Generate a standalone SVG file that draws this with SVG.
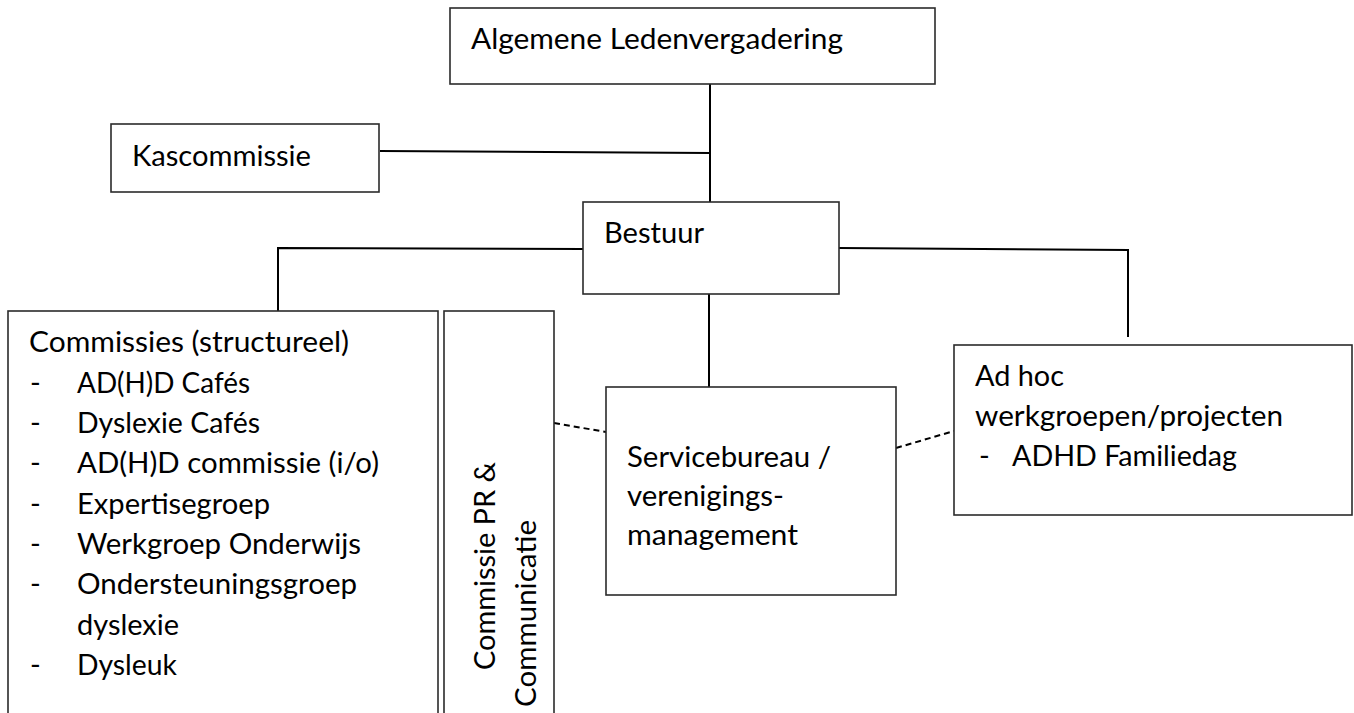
<svg xmlns="http://www.w3.org/2000/svg" width="1354" height="713" viewBox="0 0 1354 713">
<style>
.box{fill:#fff;stroke:#2b2b2b;stroke-width:1.6}
.ln{fill:none;stroke:#000;stroke-width:2}
.dash{fill:none;stroke:#000;stroke-width:2;stroke-dasharray:6 4}
text{font-family:Lato,"Liberation Sans",sans-serif;font-size:29px;fill:#000}
</style>
<rect width="1354" height="713" fill="#fff"/>
<g id="connectors">
<line class="ln" x1="710" y1="84" x2="710" y2="202"/>
<line class="ln" x1="380" y1="151" x2="710" y2="153"/>
<polyline class="ln" points="583,249 278,248 278,311"/>
<polyline class="ln" points="839,248 1128,250 1128,337"/>
<line class="ln" x1="709" y1="294" x2="709" y2="387"/>
<line class="dash" x1="554" y1="423" x2="606" y2="432"/>
<line class="dash" x1="896" y1="448" x2="954" y2="431"/>
</g>
<g id="alv">
<rect class="box" x="450" y="8" width="485" height="76"/>
<text x="471" y="49" textLength="372" lengthAdjust="spacingAndGlyphs">Algemene Ledenvergadering</text>
</g>
<g id="kascommissie">
<rect class="box" x="111" y="124" width="268" height="68"/>
<text x="132" y="166" textLength="179" lengthAdjust="spacingAndGlyphs">Kascommissie</text>
</g>
<g id="bestuur">
<rect class="box" x="583" y="202" width="256" height="92"/>
<text x="604" y="243" textLength="100" lengthAdjust="spacingAndGlyphs">Bestuur</text>
</g>
<g id="commissies">
<rect class="box" x="8" y="311" width="430" height="420"/>
<text x="29" y="352" textLength="320" lengthAdjust="spacingAndGlyphs">Commissies (structureel)</text>
<text x="30" y="393">-</text><text x="77" y="393" textLength="173" lengthAdjust="spacingAndGlyphs">AD(H)D Cafés</text>
<text x="30" y="433">-</text><text x="77" y="433" textLength="183" lengthAdjust="spacingAndGlyphs">Dyslexie Cafés</text>
<text x="30" y="473">-</text><text x="77" y="473" textLength="302" lengthAdjust="spacingAndGlyphs">AD(H)D commissie (i/o)</text>
<text x="30" y="514">-</text><text x="77" y="514" textLength="193" lengthAdjust="spacingAndGlyphs">Expertisegroep</text>
<text x="30" y="554">-</text><text x="77" y="554" textLength="284" lengthAdjust="spacingAndGlyphs">Werkgroep Onderwijs</text>
<text x="30" y="594">-</text><text x="77" y="594" textLength="280" lengthAdjust="spacingAndGlyphs">Ondersteuningsgroep</text>
<text x="77" y="635" textLength="102" lengthAdjust="spacingAndGlyphs">dyslexie</text>
<text x="30" y="675">-</text><text x="77" y="675" textLength="100" lengthAdjust="spacingAndGlyphs">Dysleuk</text>
</g>
<g id="pr">
<rect class="box" x="444" y="311" width="110" height="420"/>
<text transform="translate(495,670) rotate(-90)" textLength="208" lengthAdjust="spacingAndGlyphs">Commissie PR &amp;</text>
<text transform="translate(536,707) rotate(-90)" textLength="187" lengthAdjust="spacingAndGlyphs">Communicatie</text>
</g>
<g id="servicebureau">
<rect class="box" x="606" y="387" width="290" height="208"/>
<text x="627" y="467" textLength="204" lengthAdjust="spacingAndGlyphs">Servicebureau /</text>
<text x="627" y="506" textLength="157" lengthAdjust="spacingAndGlyphs">verenigings-</text>
<text x="627" y="545" textLength="171" lengthAdjust="spacingAndGlyphs">management</text>
</g>
<g id="adhoc">
<rect class="box" x="954" y="345" width="398" height="170"/>
<text x="975" y="386" textLength="89" lengthAdjust="spacingAndGlyphs">Ad hoc</text>
<text x="975" y="426" textLength="308" lengthAdjust="spacingAndGlyphs">werkgroepen/projecten</text>
<text x="979" y="466">-</text><text x="1012" y="466" textLength="225" lengthAdjust="spacingAndGlyphs">ADHD Familiedag</text>
</g>
</svg>
